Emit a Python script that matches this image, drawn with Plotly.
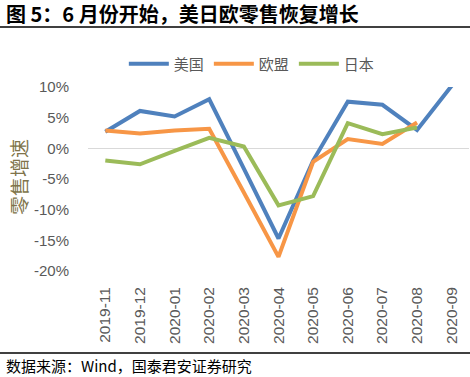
import plotly.graph_objects as go

months = ["2019-11", "2019-12", "2020-01", "2020-02", "2020-03", "2020-04",
          "2020-05", "2020-06", "2020-07", "2020-08", "2020-09"]
us = [2.7, 6.1, 5.2, 8.0, -3.3, -14.7, -2.0, 7.6, 7.1, 3.0, 10.2]
eu = [2.9, 2.4, 2.9, 3.2, -7.2, -17.7, -2.2, 1.5, 0.7, 4.2, None]
jp = [-2.0, -2.6, -0.4, 1.7, 0.3, -9.3, -7.8, 4.1, 2.3, 3.4, None]

ytick_vals = [10, 5, 0, -5, -10, -15, -20]
ytick_text = [f"{v}%" for v in ytick_vals]

fig = go.Figure()
for name, vals, color in [("美国", us, "#4f81bd"), ("欧盟", eu, "#f79646"), ("日本", jp, "#9bbb59")]:
    fig.add_trace(go.Scatter(x=months, y=[v / 100 if v is not None else None for v in vals],
                             mode="lines", name=name,
                             line=dict(color=color, width=4), cliponaxis=False))

fig.update_layout(
    width=470, height=377,
    margin=dict(l=88, r=1, t=87, b=106, autoexpand=False),
    plot_bgcolor="white", paper_bgcolor="white",
    font=dict(family="Noto Sans CJK SC, Liberation Sans", color="#595959"),
    showlegend=True,
    legend=dict(orientation="h", x=0.43, xanchor="center", y=1.125, yanchor="middle",
                font=dict(size=15, color="#595959"), itemwidth=40, tracegroupgap=0),
    xaxis=dict(type="category", range=[-0.5, 10.5], tickangle=-90,
               tickfont=dict(size=15.5, family="Liberation Sans", color="#595959"),
               showgrid=False, showline=False, ticks="", ticklabelstandoff=12),
    yaxis=dict(range=[-0.2, 0.1], tickvals=[v / 100 for v in ytick_vals], ticktext=ytick_text,
               tickfont=dict(size=15, family="Liberation Sans", color="#595959"),
               showgrid=False, zeroline=True, zerolinecolor="#d9d9d9", zerolinewidth=1,
               showline=False, ticks="", ticklabelstandoff=18),
    shapes=[
        dict(type="line", xref="paper", yref="paper", x0=-88/381, x1=1.01, y0=1 + 60/184, y1=1 + 60/184,
             line=dict(color="black", width=1.5)),
        dict(type="line", xref="paper", yref="paper", x0=-88/381, x1=1.01, y0=-82/184, y1=-82/184,
             line=dict(color="black", width=1.5)),
    ],
    annotations=[
        dict(text="<b>图 5：6 月份开始，美日欧零售恢复增长</b>", xref="paper", yref="paper",
             x=-84/381, y=1 + 73/184, xanchor="left", yanchor="middle", showarrow=False,
             font=dict(size=20, color="black", family="Noto Sans CJK SC")),
        dict(text="数据来源：Wind，国泰君安证券研究", xref="paper", yref="paper",
             x=-84/381, y=-94/184, xanchor="left", yanchor="middle", showarrow=False,
             font=dict(size=15, color="black", family="Noto Sans CJK SC")),
        dict(text="零售增速", xref="paper", yref="paper", textangle=-90,
             x=-70/381, y=(271 - 177) / 184, xanchor="center", yanchor="middle", showarrow=False,
             font=dict(size=19, color="#80744a", family="Noto Sans CJK SC")),
    ],
)

fig.write_html("out.html", config={"displayModeBar": False},
               post_script="document.body.style.margin='0';document.body.style.overflow='hidden';")
